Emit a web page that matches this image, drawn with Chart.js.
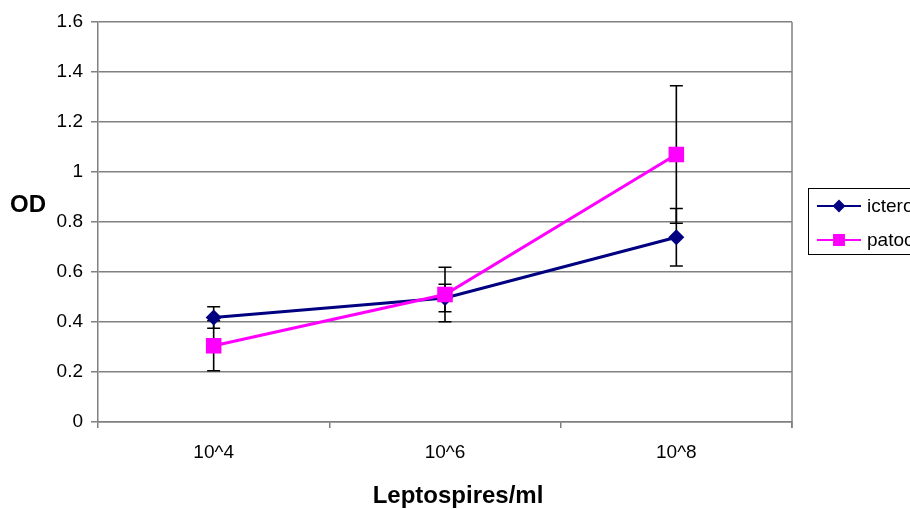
<!DOCTYPE html>
<html><head><meta charset="utf-8">
<script src="https://cdn.jsdelivr.net/npm/chart.js@4/dist/chart.umd.min.js"></script>
<style>
html,body{margin:0;padding:0;overflow:hidden;background:#fff;width:910px;height:509px}
#wrap{position:relative;width:1100px;height:509px}
</style></head><body>
<div id="wrap"><canvas id="c" width="1100" height="509"></canvas></div>
<script>
const categories = ['10^4', '10^6', '10^8'];
const seriesNames = ['icterohaemorrhagiae', 'patoc'];
const icteroValues = [0.418, 0.496, 0.739];
const icteroErrors = [0.043, 0.055, 0.115];
const patocValues = [0.305, 0.51, 1.07];
const patocErrors = [0.10, 0.109, 0.275];
const yAxisTitle = 'OD';
const xAxisTitle = 'Leptospires/ml';
const yMin = 0, yMax = 1.6, yStep = 0.2;

const FONT = '"Liberation Sans", Arial, sans-serif';
const GRID = '#808080';

const errorBars = {
  id: 'errorBars',
  beforeDatasetsDraw(chart) {
    const ctx = chart.ctx, ys = chart.scales.y;
    ctx.save();
    ctx.strokeStyle = '#000';
    ctx.lineWidth = 1.6;
    chart.data.datasets.forEach((ds, i) => {
      const meta = chart.getDatasetMeta(i);
      ds.data.forEach((v, j) => {
        const e = ds.errors[j];
        const x = meta.data[j].x;
        const yt = ys.getPixelForValue(v + e), yb = ys.getPixelForValue(v - e);
        ctx.beginPath();
        ctx.moveTo(x, yt); ctx.lineTo(x, yb);
        ctx.moveTo(x - 6.5, yt); ctx.lineTo(x + 6.5, yt);
        ctx.moveTo(x - 6.5, yb); ctx.lineTo(x + 6.5, yb);
        ctx.stroke();
      });
    });
    ctx.restore();
  }
};

const frame = {
  id: 'frame',
  afterDraw(chart) {
    const ctx = chart.ctx, a = chart.chartArea;
    ctx.save();
    ctx.strokeStyle = GRID; ctx.lineWidth = 1.5;
    ctx.beginPath();
    ctx.moveTo(a.right, a.top); ctx.lineTo(a.right, a.bottom + 6);
    ctx.stroke();
    // axis titles
    ctx.fillStyle = '#000';
    ctx.font = 'bold 24px ' + FONT;
    ctx.textBaseline = 'alphabetic';
    ctx.textAlign = 'left';
    ctx.fillText(yAxisTitle, 10, 212);
    ctx.textAlign = 'center';
    ctx.fillText(xAxisTitle, (a.left + a.right) / 2 + 13, 503);
    // legend
    const lx = 808, ly = 188, lh = 66;
    ctx.font = '19px ' + FONT;
    let maxW = 0;
    chart.data.datasets.forEach(ds => { maxW = Math.max(maxW, ctx.measureText(ds.label).width); });
    ctx.strokeStyle = '#000'; ctx.lineWidth = 1;
    ctx.strokeRect(lx + 0.5, ly + 0.5, 68 + maxW, lh);
    const rows = [206, 240];
    chart.data.datasets.forEach((ds, i) => {
      const y = rows[i];
      ctx.strokeStyle = ds.borderColor; ctx.lineWidth = 2;
      ctx.beginPath(); ctx.moveTo(817, y); ctx.lineTo(861, y); ctx.stroke();
      Chart.helpers.drawPoint(ctx, {
        pointStyle: ds.pointStyle, radius: ds.legendRadius, rotation: 0, borderWidth: 1
      }, 839, y);
      ctx.fillStyle = ds.borderColor;
      ctx.fill();
      ctx.fillStyle = '#000';
      ctx.textAlign = 'left'; ctx.textBaseline = 'middle';
      ctx.fillText(ds.label, 867, y + 1);
    });
    ctx.restore();
  }
};

new Chart(document.getElementById('c'), {
  type: 'line',
  data: {
    labels: categories,
    datasets: [
      {
        label: seriesNames[0], data: icteroValues, errors: icteroErrors,
        borderColor: '#000080', backgroundColor: '#000080',
        pointStyle: 'rectRot', pointRadius: 8, pointHoverRadius: 8, legendRadius: 5,
        pointBorderWidth: 0, borderWidth: 3, order: 1
      },
      {
        label: seriesNames[1], data: patocValues, errors: patocErrors,
        borderColor: '#FF00FF', backgroundColor: '#FF00FF',
        pointStyle: 'rect', pointRadius: 11, pointHoverRadius: 11, legendRadius: 7,
        pointBorderWidth: 0, borderWidth: 3, order: 0
      }
    ]
  },
  options: {
    responsive: false, animation: false, devicePixelRatio: 1,
    layout: { padding: { left: 0, top: 22, right: 308, bottom: 0 } },
    plugins: { legend: { display: false }, tooltip: { enabled: false } },
    scales: {
      x: {
        offset: true,
        grid: { offset: true, drawOnChartArea: false, drawTicks: true, tickLength: 6, color: GRID, lineWidth: 1.5 },
        border: { display: true, color: GRID, width: 1.5 },
        ticks: { color: '#000', font: { family: FONT, size: 19 }, padding: 13, maxRotation: 0 },
        afterFit(s) { s.height = 87; }
      },
      y: {
        min: yMin, max: yMax,
        grid: { color: GRID, lineWidth: 1.5, tickLength: 7, drawTicks: true },
        border: { display: true, color: GRID, width: 1.5 },
        ticks: {
          stepSize: yStep, color: '#000', font: { family: FONT, size: 19 }, padding: 8,
          callback: v => String(Number(Number(v).toFixed(1)))
        },
        afterFit(s) { s.width = 98; }
      }
    }
  },
  plugins: [errorBars, frame]
});
</script>
</body></html>
